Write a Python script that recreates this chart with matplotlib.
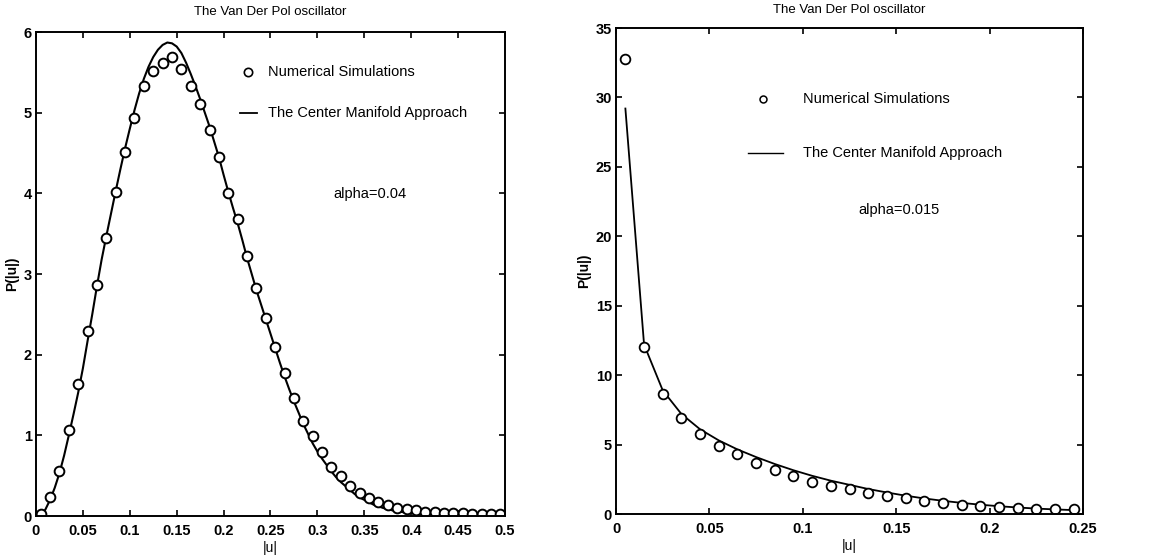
import numpy as np
import matplotlib.pyplot as plt

plt.rcParams['font.family'] = ['Liberation Sans Narrow', 'Liberation Sans', 'DejaVu Sans']

# ---- left panel, alpha = 0.04
u_sim_a = [0.005, 0.015, 0.025, 0.035, 0.045, 0.055, 0.065, 0.075, 0.085, 0.095,
           0.105, 0.115, 0.125, 0.135, 0.145, 0.155, 0.165, 0.175, 0.185, 0.195,
           0.205, 0.215, 0.225, 0.235, 0.245, 0.255, 0.265, 0.275, 0.285, 0.295,
           0.305, 0.315, 0.325, 0.335, 0.345, 0.355, 0.365, 0.375, 0.385, 0.395,
           0.405, 0.415, 0.425, 0.435, 0.445, 0.455, 0.465, 0.475, 0.485, 0.495]
p_sim_a = [0.02, 0.24, 0.56, 1.07, 1.64, 2.29, 2.86, 3.45, 4.02, 4.51,
           4.94, 5.33, 5.52, 5.62, 5.69, 5.54, 5.33, 5.11, 4.79, 4.45,
           4.01, 3.68, 3.22, 2.83, 2.46, 2.09, 1.77, 1.46, 1.18, 0.99,
           0.79, 0.61, 0.49, 0.375, 0.29, 0.22, 0.17, 0.136, 0.10, 0.087,
           0.07, 0.055, 0.045, 0.04, 0.035, 0.035, 0.03, 0.03, 0.03, 0.03]

u_cm_a = [0.005, 0.01, 0.015, 0.02, 0.025, 0.03, 0.035, 0.04, 0.045, 0.05,
          0.055, 0.06, 0.065, 0.07, 0.075, 0.08, 0.085, 0.09, 0.095, 0.1,
          0.105, 0.11, 0.115, 0.12, 0.125, 0.13, 0.135, 0.14, 0.145, 0.15,
          0.155, 0.16, 0.165, 0.17, 0.175, 0.18, 0.185, 0.19, 0.195, 0.2,
          0.205, 0.21, 0.215, 0.22, 0.225, 0.23, 0.235, 0.24, 0.245, 0.25,
          0.255, 0.26, 0.265, 0.27, 0.275, 0.28, 0.285, 0.29, 0.295, 0.3,
          0.305, 0.31, 0.315, 0.32, 0.325, 0.33, 0.335, 0.34, 0.345, 0.35,
          0.355, 0.36, 0.365, 0.37, 0.375, 0.38, 0.385, 0.39, 0.395, 0.4,
          0.41, 0.42, 0.43, 0.44, 0.45, 0.46, 0.47, 0.48, 0.49, 0.5]
p_cm_a = [0.0, 0.08, 0.2, 0.35, 0.53, 0.75, 1.0, 1.26, 1.53, 1.83,
          2.17, 2.5, 2.85, 3.18, 3.47, 3.75, 4.03, 4.3, 4.56, 4.8,
          5.03, 5.24, 5.42, 5.57, 5.69, 5.78, 5.84, 5.87, 5.86, 5.82,
          5.74, 5.62, 5.48, 5.33, 5.17, 5.0, 4.83, 4.64, 4.45, 4.23,
          4.02, 3.82, 3.63, 3.42, 3.2, 3.0, 2.8, 2.62, 2.44, 2.26,
          2.08, 1.9, 1.73, 1.57, 1.42, 1.28, 1.14, 1.02, 0.9, 0.8,
          0.71, 0.63, 0.55, 0.48, 0.42, 0.37, 0.32, 0.27, 0.23, 0.2,
          0.17, 0.14, 0.12, 0.1, 0.085, 0.07, 0.06, 0.05, 0.04, 0.035,
          0.025, 0.02, 0.015, 0.01, 0.008, 0.006, 0.004, 0.003, 0.002, 0.001]

# ---- right panel, alpha = 0.015
u_sim_b = [0.005, 0.015, 0.025, 0.035, 0.045, 0.055, 0.065, 0.075, 0.085, 0.095,
           0.105, 0.115, 0.125, 0.135, 0.145, 0.155, 0.165, 0.175, 0.185, 0.195,
           0.205, 0.215, 0.225, 0.235, 0.245]
p_sim_b = [32.8, 12.0, 8.62, 6.89, 5.74, 4.92, 4.32, 3.70, 3.17, 2.74,
           2.33, 2.02, 1.78, 1.54, 1.30, 1.13, 0.96, 0.77, 0.67, 0.58,
           0.53, 0.43, 0.38, 0.34, 0.34]
p_cm_b = [29.2, 12.2, 8.9, 7.2, 6.1, 5.3, 4.65, 4.1, 3.6, 3.15,
          2.75, 2.4, 2.1, 1.8, 1.55, 1.32, 1.12, 0.95, 0.8, 0.67,
          0.56, 0.47, 0.39, 0.33, 0.28]

xticks_a = [0, 0.05, 0.1, 0.15, 0.2, 0.25, 0.3, 0.35, 0.4, 0.45, 0.5]
xlabels_a = ['0', '0.05', '0.1', '0.15', '0.2', '0.25', '0.3', '0.35', '0.4', '0.45', '0.5']
yticks_a = [0, 1, 2, 3, 4, 5, 6]
xticks_b = [0, 0.05, 0.1, 0.15, 0.2, 0.25]
xlabels_b = ['0', '0.05', '0.1', '0.15', '0.2', '0.25']
yticks_b = [0, 5, 10, 15, 20, 25, 30, 35]


fig = plt.figure(figsize=(11.53, 5.59), dpi=100)
ax1 = fig.add_axes([0.0312, 0.0769, 0.4068, 0.8658])
ax2 = fig.add_axes([0.5343, 0.0805, 0.4050, 0.8694])


def style_axes(ax, xticks, xlabels, yticks, xmax, ymax, title_pad):
    ax.set_xlim(0, xmax)
    ax.set_ylim(0, ymax)
    ax.set_xticks(xticks)
    ax.set_xticklabels(xlabels)
    ax.set_yticks(yticks)
    ax.tick_params(direction='in', length=4, width=1.2, top=True, right=True,
                   labelsize=10.5)
    ax.tick_params(axis='x', pad=6)
    ax.tick_params(axis='y', pad=3)
    for lab in ax.get_xticklabels() + ax.get_yticklabels():
        lab.set_fontweight('bold')
    for s in ax.spines.values():
        s.set_linewidth(1.4)
    ax.set_title('The Van Der Pol oscillator', fontsize=9.5, pad=title_pad)
    ax.set_xlabel('|u|', fontsize=10, labelpad=2)
    ax.set_ylabel('P(|u|)', fontsize=10, fontweight='bold', labelpad=3)


# left
ax1.plot(u_cm_a, p_cm_a, color='black', lw=1.5)
ax1.plot(u_sim_a, p_sim_a, 'o', mfc='white', mec='black', mew=1.4, ms=7)
style_axes(ax1, xticks_a, xlabels_a, yticks_a, 0.5, 6, 12)
ax1.plot([0.226], [5.5], 'o', mfc='white', mec='black', mew=1.2, ms=6)
ax1.plot([0.218, 0.236], [5.0, 5.0], color='black', lw=1.3)
ax1.text(0.247, 5.5, 'Numerical Simulations', fontsize=10.5, va='center')
ax1.text(0.247, 5.0, 'The Center Manifold Approach', fontsize=10.5, va='center')
ax1.text(0.317, 3.99, 'alpha=0.04', fontsize=10.5, va='center')

# right
ax2.plot(u_sim_b, p_cm_b, color='black', lw=1.3)
ax2.plot(u_sim_b, p_sim_b, 'o', mfc='white', mec='black', mew=1.3, ms=7)
style_axes(ax2, xticks_b, xlabels_b, yticks_b, 0.25, 35, 11)
ax2.plot([0.0785], [29.9], 'o', mfc='white', mec='black', mew=1.1, ms=5)
ax2.plot([0.0705, 0.0895], [26.0, 26.0], color='black', lw=1.0)
ax2.text(0.1, 29.9, 'Numerical Simulations', fontsize=10.5, va='center')
ax2.text(0.1, 26.0, 'The Center Manifold Approach', fontsize=10.5, va='center')
ax2.text(0.13, 21.9, 'alpha=0.015', fontsize=10.5, va='center')

fig.savefig('out.png', dpi=100)
